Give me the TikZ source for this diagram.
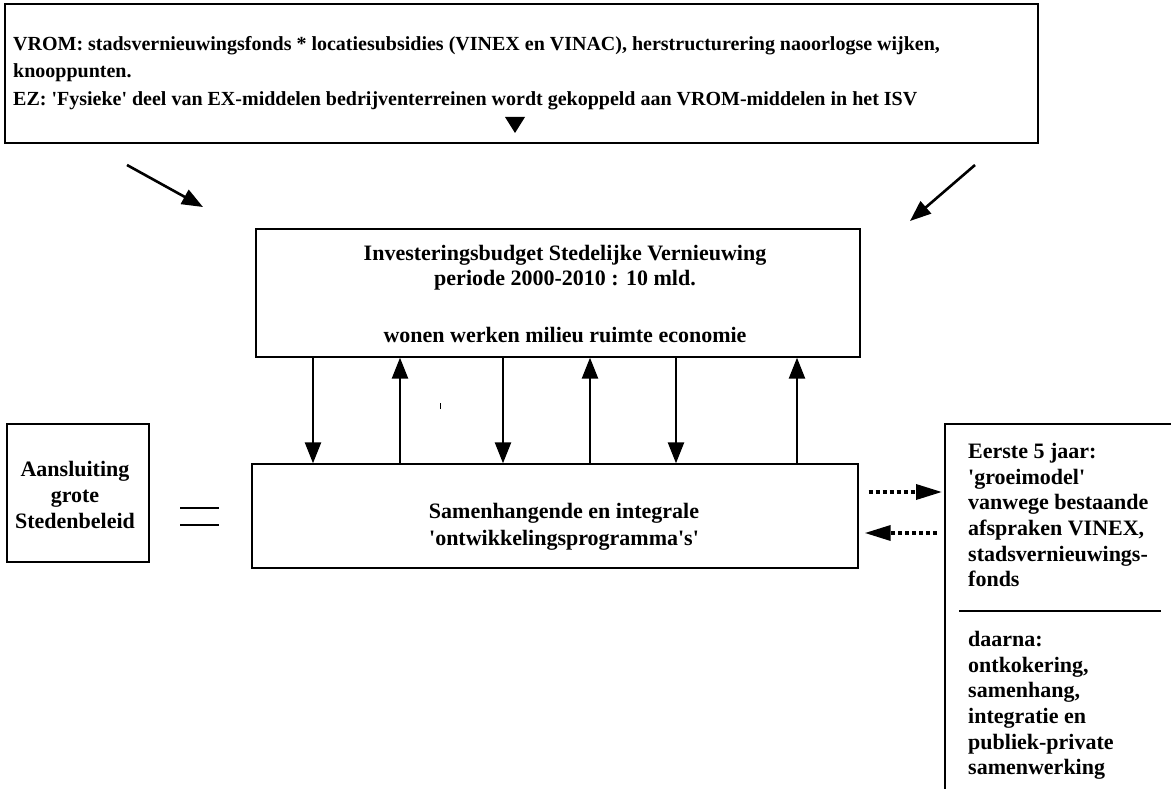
\documentclass[tikz,border=0pt]{standalone}
\usepackage{fontspec}
\setmainfont{Liberation Serif}[Ligatures=TeXOff]
\usetikzlibrary{arrows.meta}
\begin{document}
\begin{tikzpicture}[x=1pt,y=-1pt,
  box/.style={draw,line width=1.4pt,inner sep=0pt},
  toptxt/.style={inner sep=0pt,font=\fontsize{20}{26}\selectfont\bfseries},
  txt/.style={inner sep=0pt,font=\fontsize{22}{25.7}\selectfont\bfseries},
  arr/.style={line width=2.6pt,-{Triangle[length=21pt,width=16pt]}},
  darr/.style={line width=3.5pt,dash pattern=on 4pt off 3pt,-{Triangle[length=26pt,width=15pt]}}
]
\useasboundingbox (0,0) rectangle (1171,789);
\fill[white] (0,0) rectangle (1171,789);

% top box
\node[box,minimum width=1033pt,minimum height=139pt] (top) at (521.5,73.5) {};
\node[toptxt,anchor=north west,align=left] (toptext) at (13,36)
 {VROM: stadsvernieuwingsfonds * locatiesubsidies (VINEX en VINAC), herstructurering naoorlogse wijken,\\[1.5pt]
  knooppunten.\\[1.5pt]
  EZ: 'Fysieke' deel van EX-middelen bedrijventerreinen wordt gekoppeld aan VROM-middelen in het ISV};
\fill (505,117) -- (525,117) -- (515,133) -- cycle;

% investment box
\node[box,minimum width=604pt,minimum height=128pt] (inv) at (558,293) {};
\node[txt,align=center,font=\fontsize{22}{25}\selectfont\bfseries] (invtxt) at (565,268)
 {Investeringsbudget Stedelijke Vernieuwing\\periode 2000-2010 : 10 mld.};
\node[txt] (invtxt2) at (565,335) {wonen werken milieu ruimte economie};

% lower box
\node[box,minimum width=606pt,minimum height=104pt] (low) at (555,516) {};
\node[txt,align=center,font=\fontsize{22}{27}\selectfont\bfseries] (lowtxt) at (564,527)
 {Samenhangende en integrale\\'ontwikkelingsprogramma's'};

% left box
\node[box,minimum width=142pt,minimum height=138pt] (lbox) at (78,493) {};
\node[txt,align=center,font=\fontsize{22}{26}\selectfont\bfseries] (ltxt) at (75,495)
 {Aansluiting\\grote\\Stedenbeleid};

% equal sign
\draw[line width=1.5pt] (180,508) -- (219,508);
\draw[line width=1.5pt] (180,525) -- (219,525);

% right box (continues past the page edge)
\draw[line width=1.4pt] (1171,424) -- (945,424) -- (945,789);
\coordinate (rb) at (945,424);
\node[txt,anchor=north west,align=left] (rtxt1) at (968,443)
 {Eerste 5 jaar:\\'groeimodel'\\vanwege bestaande\\afspraken VINEX,\\stadsvernieuwings-\\fonds};
\draw[line width=1.4pt] (959,611) -- (1161,611);
\node[txt,anchor=north west,align=left] (rtxt2) at (968,631)
 {daarna:\\ontkokering,\\samenhang,\\integratie en\\publiek-private\\samenwerking};

% diagonal arrows
\coordinate (d1s) at (127,165);
\coordinate (d1e) at (203,207);
\coordinate (d2s) at (975,165);
\coordinate (d2e) at (910,221);
\draw[arr] (d1s) -- (d1e);
\draw[arr] (d2s) -- (d2e);

% vertical arrows
\draw[arr] (inv.south -| 313,0) -- (low.north -| 313,0);
\draw[arr] (low.north -| 400,0) -- (inv.south -| 400,0);
\draw[arr] (inv.south -| 503,0) -- (low.north -| 503,0);
\draw[arr] (low.north -| 590,0) -- (inv.south -| 590,0);
\draw[arr] (inv.south -| 676,0) -- (low.north -| 676,0);
\draw[arr] (low.north -| 797,0) -- (inv.south -| 797,0);

% tiny mark
\draw[line width=1pt] (440,403) -- (440,409);

% dotted arrows
\draw[darr] ([xshift=10pt]low.east |- 0,492) -- ([xshift=-3pt]rb |- 0,492);
\draw[darr] ([xshift=-8pt]rb |- 0,533) -- ([xshift=6pt]low.east |- 0,533);
\end{tikzpicture}
\end{document}
